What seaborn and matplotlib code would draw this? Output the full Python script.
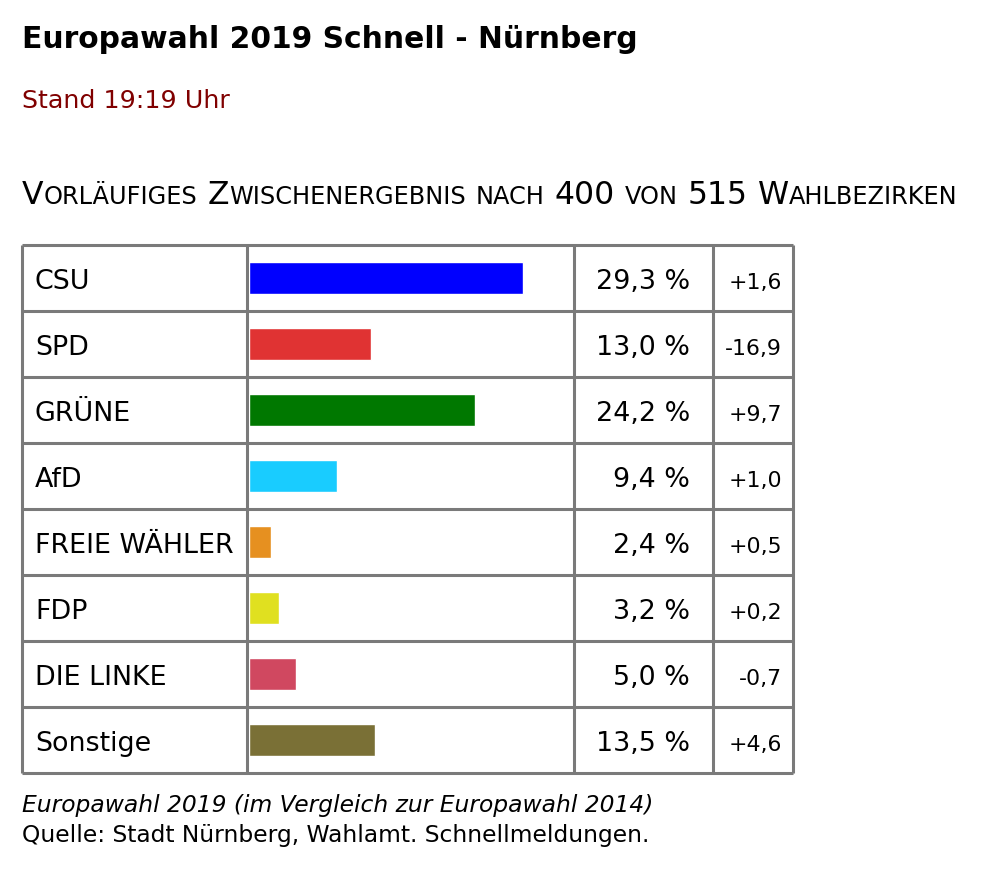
import matplotlib
matplotlib.use("Agg")
import matplotlib.pyplot as plt
import seaborn as sns

# Schnellmeldung Europawahl 2019, Nürnberg
parteien = ["CSU", "SPD", "GRÜNE", "AfD", "FREIE WÄHLER", "FDP", "DIE LINKE", "Sonstige"]
anteil = [29.3, 13.0, 24.2, 9.4, 2.4, 3.2, 5.0, 13.5]
diff = [1.6, -16.9, 9.7, 1.0, 0.5, 0.2, -0.7, 4.6]
farben = ["#0000ff", "#e03333", "#007800", "#19ccff", "#e69020", "#e0e020", "#d04860", "#7a7036"]

titel = "Europawahl 2019 Schnell - Nürnberg"
stand = "Stand 19:19 Uhr"
untertitel = "Vorläufiges Zwischenergebnis nach 400 von 515 Wahlbezirken"
fuss1 = "Europawahl 2019 (im Vergleich zur Europawahl 2014)"
fuss2 = "Quelle: Stadt Nürnberg, Wahlamt. Schnellmeldungen."

sns.set_theme(style="white")
plt.rcParams["font.family"] = ["DejaVu Sans"]
plt.rcParams["text.color"] = "black"

W, H = 990, 890
fig = plt.figure(figsize=(W / 100, H / 100), dpi=100)
ax = fig.add_axes([0, 0, 1, 1])
ax.set_xlim(0, W)
ax.set_ylim(H, 0)
ax.axis("off")

# table geometry in pixels
row_y = [245 + 66 * i for i in range(len(parteien) + 1)]
col_x = [22, 247, 574, 713, 793]
bar_x0 = 249
px_per_pct = 274 / 29.3

# bar column, drawn with seaborn on its own axes
bax = fig.add_axes([bar_x0 / W, 1 - row_y[-1] / H, (col_x[2] - bar_x0) / W, (row_y[-1] - row_y[0]) / H])
sns.barplot(x=anteil, y=parteien, hue=parteien, palette=farben, legend=False,
            orient="h", width=0.485, saturation=1, ax=bax)
bax.set_xlim(0, (col_x[2] - bar_x0) / px_per_pct)
bax.set_ylim(len(parteien) - 0.5, -0.5)
bax.axis("off")
bax.patch.set_alpha(0)

# grid lines
lc = "#7a7a7a"
ax.hlines(row_y, col_x[0], col_x[-1], color=lc, lw=2.2, zorder=5)
ax.vlines(col_x, row_y[0], row_y[-1], color=lc, lw=2.2, zorder=5)

fs_cell = 19.4
for i, name in enumerate(parteien):
    yb = (row_y[i] + row_y[i + 1]) / 2 + 11
    ax.text(35, yb, name, fontsize=fs_cell, va="baseline", ha="left")
    ax.text(690, yb, f"{anteil[i]:.1f} %".replace(".", ","), fontsize=fs_cell, va="baseline", ha="right")
    ax.text(782, yb, f"{diff[i]:+.1f}".replace(".", ","), fontsize=15.8, va="baseline", ha="right")

ax.text(22, 48, titel, fontsize=21.4, fontweight="bold", va="baseline")
ax.text(22, 108, stand, fontsize=18.3, color="#800000", va="baseline")


def kapitaelchen(x, y, s, gross, klein):
    # small caps: lowercase letters as smaller capitals
    r = fig.canvas.get_renderer()
    sp = ax.text(0, 0, "a a", fontsize=gross)
    nsp = ax.text(0, 0, "aa", fontsize=gross)
    space = sp.get_window_extent(r).width - nsp.get_window_extent(r).width
    sp.remove()
    nsp.remove()
    for wort in s.split(" "):
        runs = []
        for c in wort:
            k = c.islower()
            if runs and runs[-1][1] == k:
                runs[-1][0] += c
            else:
                runs.append([c, k])
        for teil, k in runs:
            t = ax.text(x, y, teil.upper(), fontsize=klein if k else gross, va="baseline")
            x += t.get_window_extent(r).width
        x += space


kapitaelchen(22, 204, untertitel, 22.7, 17.3)

ax.text(22, 812, fuss1, fontsize=16.8, style="italic", va="baseline")
ax.text(22, 842, fuss2, fontsize=16.8, va="baseline")

fig.savefig("out.png", dpi=100)
